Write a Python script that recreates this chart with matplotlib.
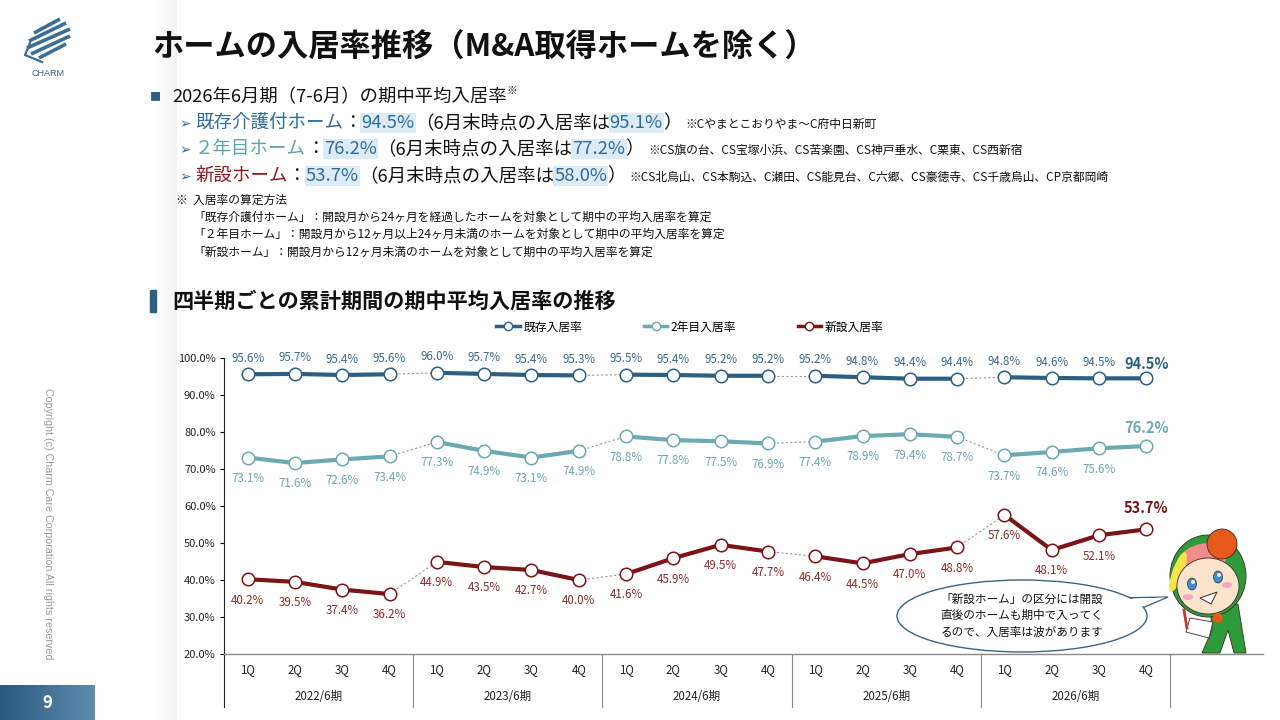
import numpy as np
import matplotlib
matplotlib.use('Agg')
import matplotlib.pyplot as plt
from matplotlib.patches import Rectangle, Ellipse, Polygon, Circle
from matplotlib.lines import Line2D

plt.rcParams['font.family'] = ['Noto Sans CJK JP', 'DejaVu Sans']

# data
quarters = ['1Q', '2Q', '3Q', '4Q'] * 5
years = ['2022/6期', '2023/6期', '2024/6期', '2025/6期', '2026/6期']
kizon = [95.6, 95.7, 95.4, 95.6, 96.0, 95.7, 95.4, 95.3, 95.5, 95.4,
         95.2, 95.2, 95.2, 94.8, 94.4, 94.4, 94.8, 94.6, 94.5, 94.5]
ninen = [73.1, 71.6, 72.6, 73.4, 77.3, 74.9, 73.1, 74.9, 78.8, 77.8,
         77.5, 76.9, 77.4, 78.9, 79.4, 78.7, 73.7, 74.6, 75.6, 76.2]
shinsetsu = [40.2, 39.5, 37.4, 36.2, 44.9, 43.5, 42.7, 40.0, 41.6, 45.9,
             49.5, 47.7, 46.4, 44.5, 47.0, 48.8, 57.6, 48.1, 52.1, 53.7]
series_names = ['既存入居率', '2年目入居率', '新設入居率']

BLUE = '#2D5F82'
TEAL = '#6AAAB0'
RED = '#7A1416'
C_BLUE_TXT = '#2F6C9C'
C_TEAL_TXT = '#5EA4AA'
C_RED_TXT = '#8B1C1C'
HL = '#DDEBF6'

fig = plt.figure(figsize=(12.8, 7.2), dpi=100)
renderer = fig.canvas.get_renderer()

# ---- chart ----
L, R, T, B = 224, 1170, 358, 654
ax = fig.add_axes([L / 1280, 1 - B / 720, (R - L) / 1280, (B - T) / 720])
ax.set_zorder(2)
ax.patch.set_visible(False)
ax.set_xlim(-0.5, 19.5)
ax.set_ylim(20, 100)
ax.set_yticks(range(20, 101, 10))
ax.set_yticklabels([f'{v:.1f}%' for v in range(20, 101, 10)])
ax.tick_params(axis='y', length=3, width=0.8, labelsize=8, labelcolor='#222', pad=3)
ax.set_xticks([])
for s in ['top', 'right']:
    ax.spines[s].set_visible(False)
ax.spines['left'].set_color('#222')
ax.spines['left'].set_linewidth(0.8)
ax.spines['bottom'].set_color('#888')
ax.spines['bottom'].set_linewidth(1.0)

idx = np.arange(len(quarters))
styles = [
    (kizon, BLUE, '#3A6888', 11.5, 10.5),
    (ninen, TEAL, '#6BA6AD', -15, 13),
    (shinsetsu, RED, '#8B2A2A', -15, 15),
]
for vals, col, tcol, off, last_off in styles:
    for g in range(5):
        sl = slice(g * 4, g * 4 + 4)
        ax.plot(idx[sl], vals[sl], color=col, lw=3, marker='o', ms=9,
                mfc='white', mec=col, mew=1.1, zorder=4, solid_capstyle='round')
        if g < 4:
            ax.plot(idx[g * 4 + 3:g * 4 + 5], vals[g * 4 + 3:g * 4 + 5],
                    color='#9a9a9a', lw=0.8, ls=(0, (2, 2)), zorder=3)
    for i, v in enumerate(vals):
        if i == len(vals) - 1:
            ax.annotate(f'{v:.1f}%', (i, v), xytext=(0, last_off), textcoords='offset points',
                        ha='center', va='center', fontsize=10.5, fontweight='bold', color=col)
        else:
            ax.annotate(f'{v:.1f}%', (i, v), xytext=(0, off), textcoords='offset points',
                        ha='center', va='center', fontsize=8.3, color=tcol)

xt = ax.get_xaxis_transform()
for i, q in enumerate(quarters):
    ax.text(i, -0.054, q, transform=xt, ha='center', va='center', fontsize=8.3, color='#222')
for g, y in enumerate(years):
    ax.text(g * 4 + 1.5, -0.145, y, transform=xt, ha='center', va='center', fontsize=8.3, color='#222')
for g in range(6):
    ax.plot([g * 4 - 0.5, g * 4 - 0.5], [0, -0.18], transform=xt, color='#888' if g else '#222',
            lw=0.8, clip_on=False)
ax.plot([1, 1.098], [0, 0], transform=ax.transAxes, color='#888', lw=1.0, clip_on=False)

leg_handles = [Line2D([], [], color=c, lw=2.5, marker='o', ms=6, mfc='white', mec=c, mew=1)
               for c in (BLUE, TEAL, RED)]
fig.legend(leg_handles, series_names, loc='center', bbox_to_anchor=(690 / 1280, 1 - 327 / 720),
           ncol=3, frameon=False, fontsize=8.5, handlelength=2.0, handletextpad=0.3,
           columnspacing=5.2)

# ---- page overlay (pixel coordinates) ----
ov = fig.add_axes([0, 0, 1, 1])
ov.set_zorder(3)
ov.set_xlim(0, 1280)
ov.set_ylim(720, 0)
ov.axis('off')
ov.patch.set_visible(False)

# shadow strip
grad = np.linspace(1.0, 0.955, 64).reshape(1, -1)
ov.imshow(np.dstack([grad, grad, grad]), extent=(152, 177, 720, 0), aspect='auto', zorder=0)

# logo
stripes = [((34, 33), (60, 19)), ((29, 41), (66, 23)), ((27, 48), (70, 29)),
           ((31, 54), (70, 36)), ((39, 58), (66, 44))]
for (x0, y0), (x1, y1) in stripes:
    ov.plot([x0, x1], [y0, y1], color='#3C6E96', lw=2.6, solid_capstyle='butt')
ov.plot([30, 25, 42], [43, 55, 62], color='#3C6E96', lw=1.6)
ov.text(48, 73, 'CHARM', ha='center', va='center', fontsize=6.5, color='#3C5E80',
        family=['Liberation Sans', 'DejaVu Sans'])

ov.text(152, 48, 'ホームの入居率推移（M&A取得ホームを除く）', ha='left', va='center',
        fontsize=22.5, fontweight='bold', color='#111')


def run(x, y, parts):
    for s, kw in parts:
        t = ov.text(x, y, s, ha='left', va='center', **kw)
        x += t.get_window_extent(renderer).width
    return x


ov.text(155, 97, '■', ha='center', va='center', fontsize=8, color=BLUE)
xe = run(172, 97, [('2026年6月期（7-6月）の期中平均入居率', dict(fontsize=13.2, color='#111'))])
ov.text(xe, 91, '※', ha='left', va='center', fontsize=7.5, color='#111')

BODY = 13.3
NOTE = 8.5
hl = dict(boxstyle='square,pad=0.06', fc=HL, ec='none')
rows = [
    (123, '既存介護付ホーム', C_BLUE_TXT, '94.5%', '95.1%', '※Cやまとこおりやま～C府中日新町'),
    (149, '２年目ホーム', C_TEAL_TXT, '76.2%', '77.2%',
     '※CS旗の台、CS宝塚小浜、CS苦楽園、CS神戸垂水、C栗東、CS西新宿'),
    (176, '新設ホーム', C_RED_TXT, '53.7%', '58.0%',
     '※CS北烏山、CS本駒込、C瀬田、CS能見台、C六郷、CS豪徳寺、CS千歳烏山、CP京都岡崎'),
]
for y, name, ncol, v1, v2, note in rows:
    ov.text(179, y + 1, '➢', ha='left', va='center', fontsize=10, color='#2F6C9C',
            family=['DejaVu Sans'])
    xe = run(195, y, [
        (name, dict(fontsize=BODY, color=ncol)),
        ('：', dict(fontsize=BODY, color='#111')),
        (v1, dict(fontsize=BODY, color=C_BLUE_TXT, bbox=hl)),
        ('（6月末時点の入居率は', dict(fontsize=BODY, color='#111')),
        (v2, dict(fontsize=BODY, color=C_BLUE_TXT, bbox=hl)),
        ('）', dict(fontsize=BODY, color='#111')),
    ])
    ov.text(xe + 4, y + 1, note, ha='left', va='center', fontsize=NOTE, color='#111')

ov.text(176, 200, '※  入居率の算定方法', ha='left', va='center', fontsize=NOTE, color='#111')
notes = [
    '「既存介護付ホーム」：開設月から24ヶ月を経過したホームを対象として期中の平均入居率を算定',
    '「２年目ホーム」：開設月から12ヶ月以上24ヶ月未満のホームを対象として期中の平均入居率を算定',
    '「新設ホーム」：開設月から12ヶ月未満のホームを対象として期中の平均入居率を算定',
]
for k, s in enumerate(notes):
    ov.text(193, 217 + k * 17.5, s, ha='left', va='center', fontsize=NOTE, color='#111')

ov.add_patch(Rectangle((150, 290), 6, 22, color=BLUE))
ov.text(172, 301, '四半期ごとの累計期間の期中平均入居率の推移', ha='left', va='center',
        fontsize=15.2, fontweight='bold', color='#111')

ov.text(48, 525, 'Copyright (c) Charm Care Corporation All rights reserved.', rotation=-90,
        ha='center', va='center', fontsize=7.7, color='#9a9a9a',
        family=['Liberation Sans', 'DejaVu Sans'])

pg = np.linspace(0, 1, 64).reshape(1, -1)
c0 = np.array([0x2B, 0x5A, 0x80]) / 255
c1 = np.array([0x5E, 0x8A, 0xAC]) / 255
ov.imshow(c0 + (c1 - c0) * pg[..., None], extent=(0, 95, 720, 685), aspect='auto', zorder=1)
ov.text(47, 703, '9', ha='center', va='center', fontsize=12, fontweight='bold', color='white')
ov.set_xlim(0, 1280)
ov.set_ylim(720, 0)

# speech bubble
edge = '#3D6480'
ov.add_patch(Polygon([(1118, 598), (1128, 614), (1168, 597)], closed=True, fc='white', ec=edge, lw=1, zorder=5))
ov.add_patch(Ellipse((1022, 616), 250, 72, fc='white', ec=edge, lw=1, zorder=6))
ov.add_patch(Polygon([(1118, 599.5), (1127, 612.5), (1165, 597.5)], closed=True, fc='white', ec='none', zorder=7))
for k, s in enumerate(['「新設ホーム」の区分には開設', '直後のホームも期中で入ってく', 'るので、入居率は波があります']):
    ov.text(1022, 599 + k * 16.5, s, ha='center', va='center', fontsize=8.4, color='#111', zorder=8)

# mascot
ink = '#3a2a20'
z = 5
ov.add_patch(Polygon([(1210, 606), (1238, 604), (1246, 653), (1234, 653), (1228, 630),
                      (1220, 653), (1202, 653), (1212, 630)], closed=True, fc='#2E9B3A', ec=ink, lw=0.6, zorder=z))
ov.add_patch(Ellipse((1208, 576), 76, 82, fc='#2E9B3A', ec=ink, lw=0.6, zorder=z))
ov.add_patch(Ellipse((1202, 560), 50, 32, angle=-15, fc='#F08C8C', ec='none', zorder=z + 0.1))
ov.add_patch(Ellipse((1178, 572), 11, 42, angle=20, fc='#F5E44A', ec='none', zorder=z + 0.1))
ov.add_patch(Ellipse((1208, 586), 62, 56, fc='#FCE3CB', ec=ink, lw=0.6, zorder=z + 0.2))
ov.add_patch(Circle((1222, 544), 15, fc='#E85A1A', ec=ink, lw=0.6, zorder=z + 0.3))
for ex, ey in [(1192, 584), (1218, 577)]:
    ov.add_patch(Ellipse((ex, ey), 9, 12, fc='#3A8ED8', ec=ink, lw=0.5, zorder=z + 0.4))
    ov.add_patch(Circle((ex + 1, ey - 2), 2, fc='white', ec='none', zorder=z + 0.5))
for cx, cy in [(1188, 597), (1227, 585)]:
    ov.add_patch(Ellipse((cx, cy), 10, 6, fc='#F4A6C0', ec='none', zorder=z + 0.4))
ov.add_patch(Polygon([(1200, 598), (1217, 592), (1211, 604)], closed=True, fc='white', ec=ink, lw=0.7, zorder=z + 0.4))
ov.add_patch(Circle((1218, 618), 5, fc='#E85A1A', ec='none', zorder=z + 0.5))
ov.add_patch(Polygon([(1190, 618), (1213, 622), (1209, 638), (1186, 632)], closed=True, fc='white', ec=ink, lw=0.6, zorder=z + 0.6))
ov.plot([1184, 1187], [610, 628], color='#C0392B', lw=2, zorder=z + 0.7)

fig.savefig('out.png', dpi=100)
